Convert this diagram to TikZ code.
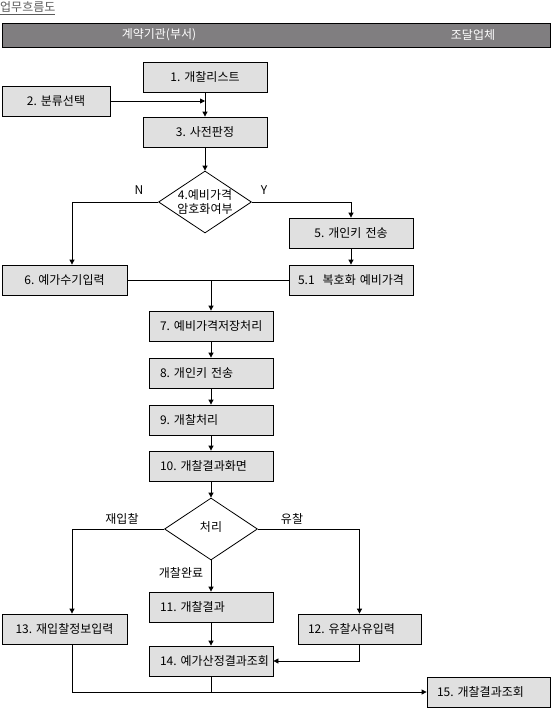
\documentclass[tikz,border=0pt]{standalone}
\usepackage{fontspec}
\setmainfont{Noto Sans CJK KR}
\usetikzlibrary{arrows.meta,shapes.geometric}
\definecolor{headgray}{RGB}{128,126,128}
\definecolor{boxgray}{RGB}{224,224,224}
\definecolor{titlegray}{RGB}{90,90,90}

\begin{document}
\begin{tikzpicture}[x=1pt,y=-1pt,
	box/.style={ draw, fill=boxgray, line width=0.8pt, minimum height=30pt, inner xsep=0pt, inner ysep=0pt, text width=124pt, align=center, font=\fontsize{12}{14}\selectfont },
	boxl/.style={ box, inner xsep=11pt, text width=102pt, align=left },
	decision/.style={ diamond, draw, fill=white, line width=0.8pt, minimum width=93pt, minimum height=62pt, inner sep=0pt },
	lbl/.style={ font=\fontsize{12}{14}\selectfont, inner sep=0pt },
	arr/.style={ line width=0.8pt, -{Triangle[length=5pt,width=5pt]} },
	ln/.style={ line width=0.8pt }
]
\useasboundingbox (0,0) rectangle (552,710);

\node at (0,8) (title) [lbl, anchor=west, text=titlegray] {\underline{업무흐름도}};
\node at (276,35) (header) [draw, fill=headgray, line width=0.8pt, minimum width=548pt, minimum height=24pt, inner sep=0pt] {};
\node at (159,35) (hdagency) [lbl, text=white] {계약기관(부서)};
\node at (473,35) (hdvendor) [lbl, text=white] {조달업체};

\node at (205,77) (list) [box] {1.~개찰리스트};
\node at (56,101) (classify) [box, text width=108pt] {2.~분류선택};
\node at (205,132) (prejudge) [box] {3.~사전판정};
\draw[arr] (list.south) -- (prejudge.north);
\draw[arr] (classify.east) -- (classify.east -| list.south);

\node at (205,202) (encrypt) [decision] {};
\node at (205,202) (encrypttxt) [lbl, align=center] {4.예비가격\\암호화여부};
\draw[arr] (prejudge.south) -- (encrypt.north);
\node at (139,190) (nlbl) [lbl] {N};
\node at (264,190) (ylbl) [lbl] {Y};

\node at (351,233) (keysend) [box] {5.~개인키 전송};
\node at (64.5,280) (manual) [box, text width=125pt] {6.~예가수기입력};
\node at (351,280) (decrypt) [box] {5.1~ 복호화 예비가격};
\draw[arr] (encrypt.west) -| ([xshift=7.5pt]manual.north);
\draw[arr] (encrypt.east) -| (keysend.north);
\draw[arr] (keysend.south) -- (decrypt.north);
\draw[ln] (manual.east) -- (decrypt.west);

\node at (211,326) (store) [boxl] {7.~예비가격저장처리};
\node at (211,373) (keysend2) [boxl] {8.~개인키 전송};
\node at (211,420) (opening) [boxl] {9.~개찰처리};
\node at (211,466) (screen) [boxl] {10.~개찰결과화면};
\draw[arr] (manual.east -| store.north) -- (store.north);
\draw[arr] (store.south) -- (keysend2.north);
\draw[arr] (keysend2.south) -- (opening.north);
\draw[arr] (opening.south) -- (screen.north);

\node at (211,529) (process) [decision] {};
\node at (211,527) (processtxt) [lbl] {처리};
\draw[arr] (screen.south) -- (process.north);
\node at (122,519) (rebidlbl) [lbl] {재입찰};
\node at (292,519) (faillbl) [lbl] {유찰};
\node at (181,573) (donelbl) [lbl] {개찰완료};

\node at (211,607) (result) [boxl] {11.~개찰결과};
\node at (64.5,629) (rebid) [box, text width=125pt] {13.~재입찰정보입력};
\node at (359.5,629) (failbid) [boxl, inner xsep=10pt, text width=103pt] {12.~유찰사유입력};
\node at (211,661) (estimate) [boxl] {14.~예가산정결과조회};
\node at (488.5,692) (inquiry) [boxl, inner xsep=10pt, text width=103pt] {15.~개찰결과조회};
\draw[arr] (process.south) -- (result.north);
\draw[arr] (process.west) -| ([xshift=7.5pt]rebid.north);
\draw[arr] (process.east) -| (failbid.north);
\draw[arr] (result.south) -- (estimate.north);
\draw[arr] (failbid.south) |- (estimate.east);
\draw[arr] ([xshift=7.5pt]rebid.south) |- (inquiry.west);
\draw[ln] (estimate.south) -- (estimate.south |- inquiry.west);

\end{tikzpicture}
\end{document}
